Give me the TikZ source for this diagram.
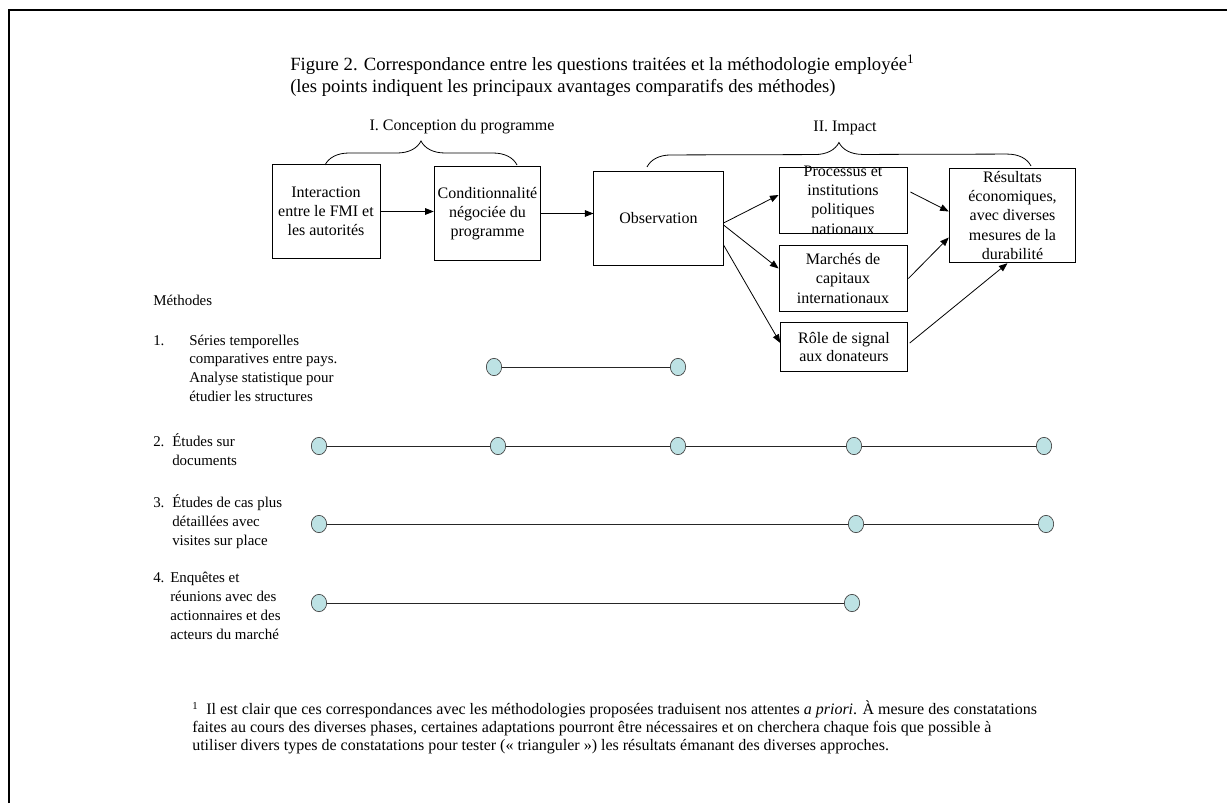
\documentclass[tikz,border=0pt]{standalone}
\usepackage{fontspec}
\setmainfont{Liberation Serif}
\usetikzlibrary{arrows.meta,calc,decorations.pathreplacing,shapes.geometric}

\definecolor{pointbleu}{RGB}{189,226,228}

\tikzset{
    boite/.style={draw=black, line width=0.6pt, align=center, inner sep=0pt,
        font=\fontsize{12}{14.4}\selectfont},
    fleche/.style={-{Triangle[length=6.5pt,width=5pt]}, line width=0.6pt},
    pastille/.style={ellipse, draw=black!75, fill=pointbleu, line width=0.5pt,
        minimum width=11.5pt, minimum height=13pt, inner sep=0pt},
    trait/.style={draw=black!85, line width=0.7pt},
    methode/.style={anchor=base west, align=left, inner sep=0pt,
        font=\fontsize{11.2}{14.2}\selectfont},
    accolade/.style={decorate, decoration={brace, amplitude=18pt}, line width=0.6pt}
}

\begin{document}
\begin{tikzpicture}[x=0.75pt, y=-0.75pt]
    \useasboundingbox (0,0) rectangle (1227,803);
    % cadre
    \draw[line width=1.6pt] (9,803) -- (9,10) -- (1227,10);

    % titre (ancre sur la ligne de base de la derniere ligne)
    \node[anchor=base west, align=left, inner sep=0pt, font=\fontsize{14}{16.5}\selectfont]
        at (290,92) (titre) {Figure 2. Correspondance entre les questions traitées et la méthodologie employée\textsuperscript{1}\\(les points indiquent les principaux avantages comparatifs des méthodes)};

    % questions
    \node[boite, minimum width=81pt, minimum height=70pt] at (326,211.5) (A) {Interaction\\entre le FMI et\\les autorités};
    \node[boite, minimum width=80pt, minimum height=70pt] at (487.5,213.5) (B) {Conditionnalité\\négociée du\\programme};
    \node[boite, minimum width=97pt, minimum height=70.5pt] at (658.5,218) (C) {Observation};
    \node[boite, minimum width=96pt, inner ysep=-1pt, font=\fontsize{12}{14.5}\selectfont] at (843,200) (D) {Processus et\\institutions\\politiques\\nationaux};
    \node[boite, minimum width=96pt, minimum height=50pt] at (843,278.5) (E) {Marchés de\\capitaux\\internationaux};
    \node[boite, minimum width=95pt, minimum height=37pt, font=\fontsize{12}{13.8}\selectfont] at (844,347) (F) {Rôle de signal\\aux donateurs};
    \node[boite, minimum width=95pt, minimum height=71pt] at (1012.5,215.5) (G) {Résultats\\économiques,\\avec diverses\\mesures de la\\durabilité};

    \draw[fleche] (A.east) -- (A.east -| B.west);
    \draw[fleche] (B.east) -- (B.east -| C.west);
    \draw[fleche] ($(C.east)+(0,5)$) -- ($(D.west)+(0,-5)$);
    \draw[fleche] ($(C.east)+(0,7)$) -- ($(E.west)+(0,-10)$);
    \draw[fleche] ($(C.east)+(0,27)$) -- ($(F.west)+(0,-4)$);
    \draw[fleche] ($(D.east)+(3,-8)$) -- ($(G.west)+(0,-4)$);
    \draw[fleche] ($(E.east)+(1,0)$) -- ($(G.west)+(0,22)$);
    \draw[fleche] ($(F.east)+(2,-4)$) -- ($(G.south)+(-5,0)$);

    % accolades
    \draw[accolade] (325,165) -- (517,165);
    \node[font=\fontsize{12}{14}\selectfont] at (462,127) (conception) {I. Conception du programme};
    \draw[accolade] (647,167) -- (1031,166);
    \node[font=\fontsize{12}{14}\selectfont] at (845,128) (impact) {II. Impact};

    % methodes (ancre sur la derniere ligne)
    \node[methode] at (153,305) (meth) {Méthodes};
    \node[methode] at (153,345) (n1) {1.};
    \node[methode] at (189,401.8) (m1) {Séries temporelles\\comparatives entre pays.\\Analyse statistique pour\\étudier les structures};
    \node[methode] at (153,446) (n2) {2.};
    \node[methode] at (172,465) (m2) {Études sur\\documents};
    \node[methode] at (153,507) (n3) {3.};
    \node[methode] at (172,545) (m3) {Études de cas plus\\détaillées avec\\visites sur place};
    \node[methode] at (153,582) (n4) {4.};
    \node[methode] at (170,639) (m4) {Enquêtes et\\réunions avec des\\actionnaires et des\\acteurs du marché};

    % points
    \node[pastille] at (494,367) (r1a) {};
    \node[pastille] at (678,367) (r1b) {};
    \node[pastille] at (319,446) (r2a) {};
    \node[pastille] at (498,446) (r2b) {};
    \node[pastille] at (678,446) (r2c) {};
    \node[pastille] at (854,446) (r2d) {};
    \node[pastille] at (1044,446) (r2e) {};
    \node[pastille] at (319,524) (r3a) {};
    \node[pastille] at (856,524) (r3b) {};
    \node[pastille] at (1046,524) (r3c) {};
    \node[pastille] at (319,603) (r4a) {};
    \node[pastille] at (852,603) (r4b) {};

    \draw[trait] (r1a) -- (r1b);
    \draw[trait] (r2a) -- (r2b) -- (r2c) -- (r2d) -- (r2e);
    \draw[trait] (r3a) -- (r3b) -- (r3c);
    \draw[trait] (r4a) -- (r4b);

    % note
    \node[anchor=base west, align=left, inner sep=0pt, font=\fontsize{12}{13.2}\selectfont]
        at (192,750) (note) {\textsuperscript{1}\ \ Il est clair que ces correspondances avec les méthodologies proposées traduisent nos attentes \textit{a priori}. À mesure des constatations\\faites au cours des diverses phases, certaines adaptations pourront être nécessaires et on cherchera chaque fois que possible à\\utiliser divers types de constatations pour tester (« trianguler ») les résultats émanant des diverses approches.};
\end{tikzpicture}
\end{document}
